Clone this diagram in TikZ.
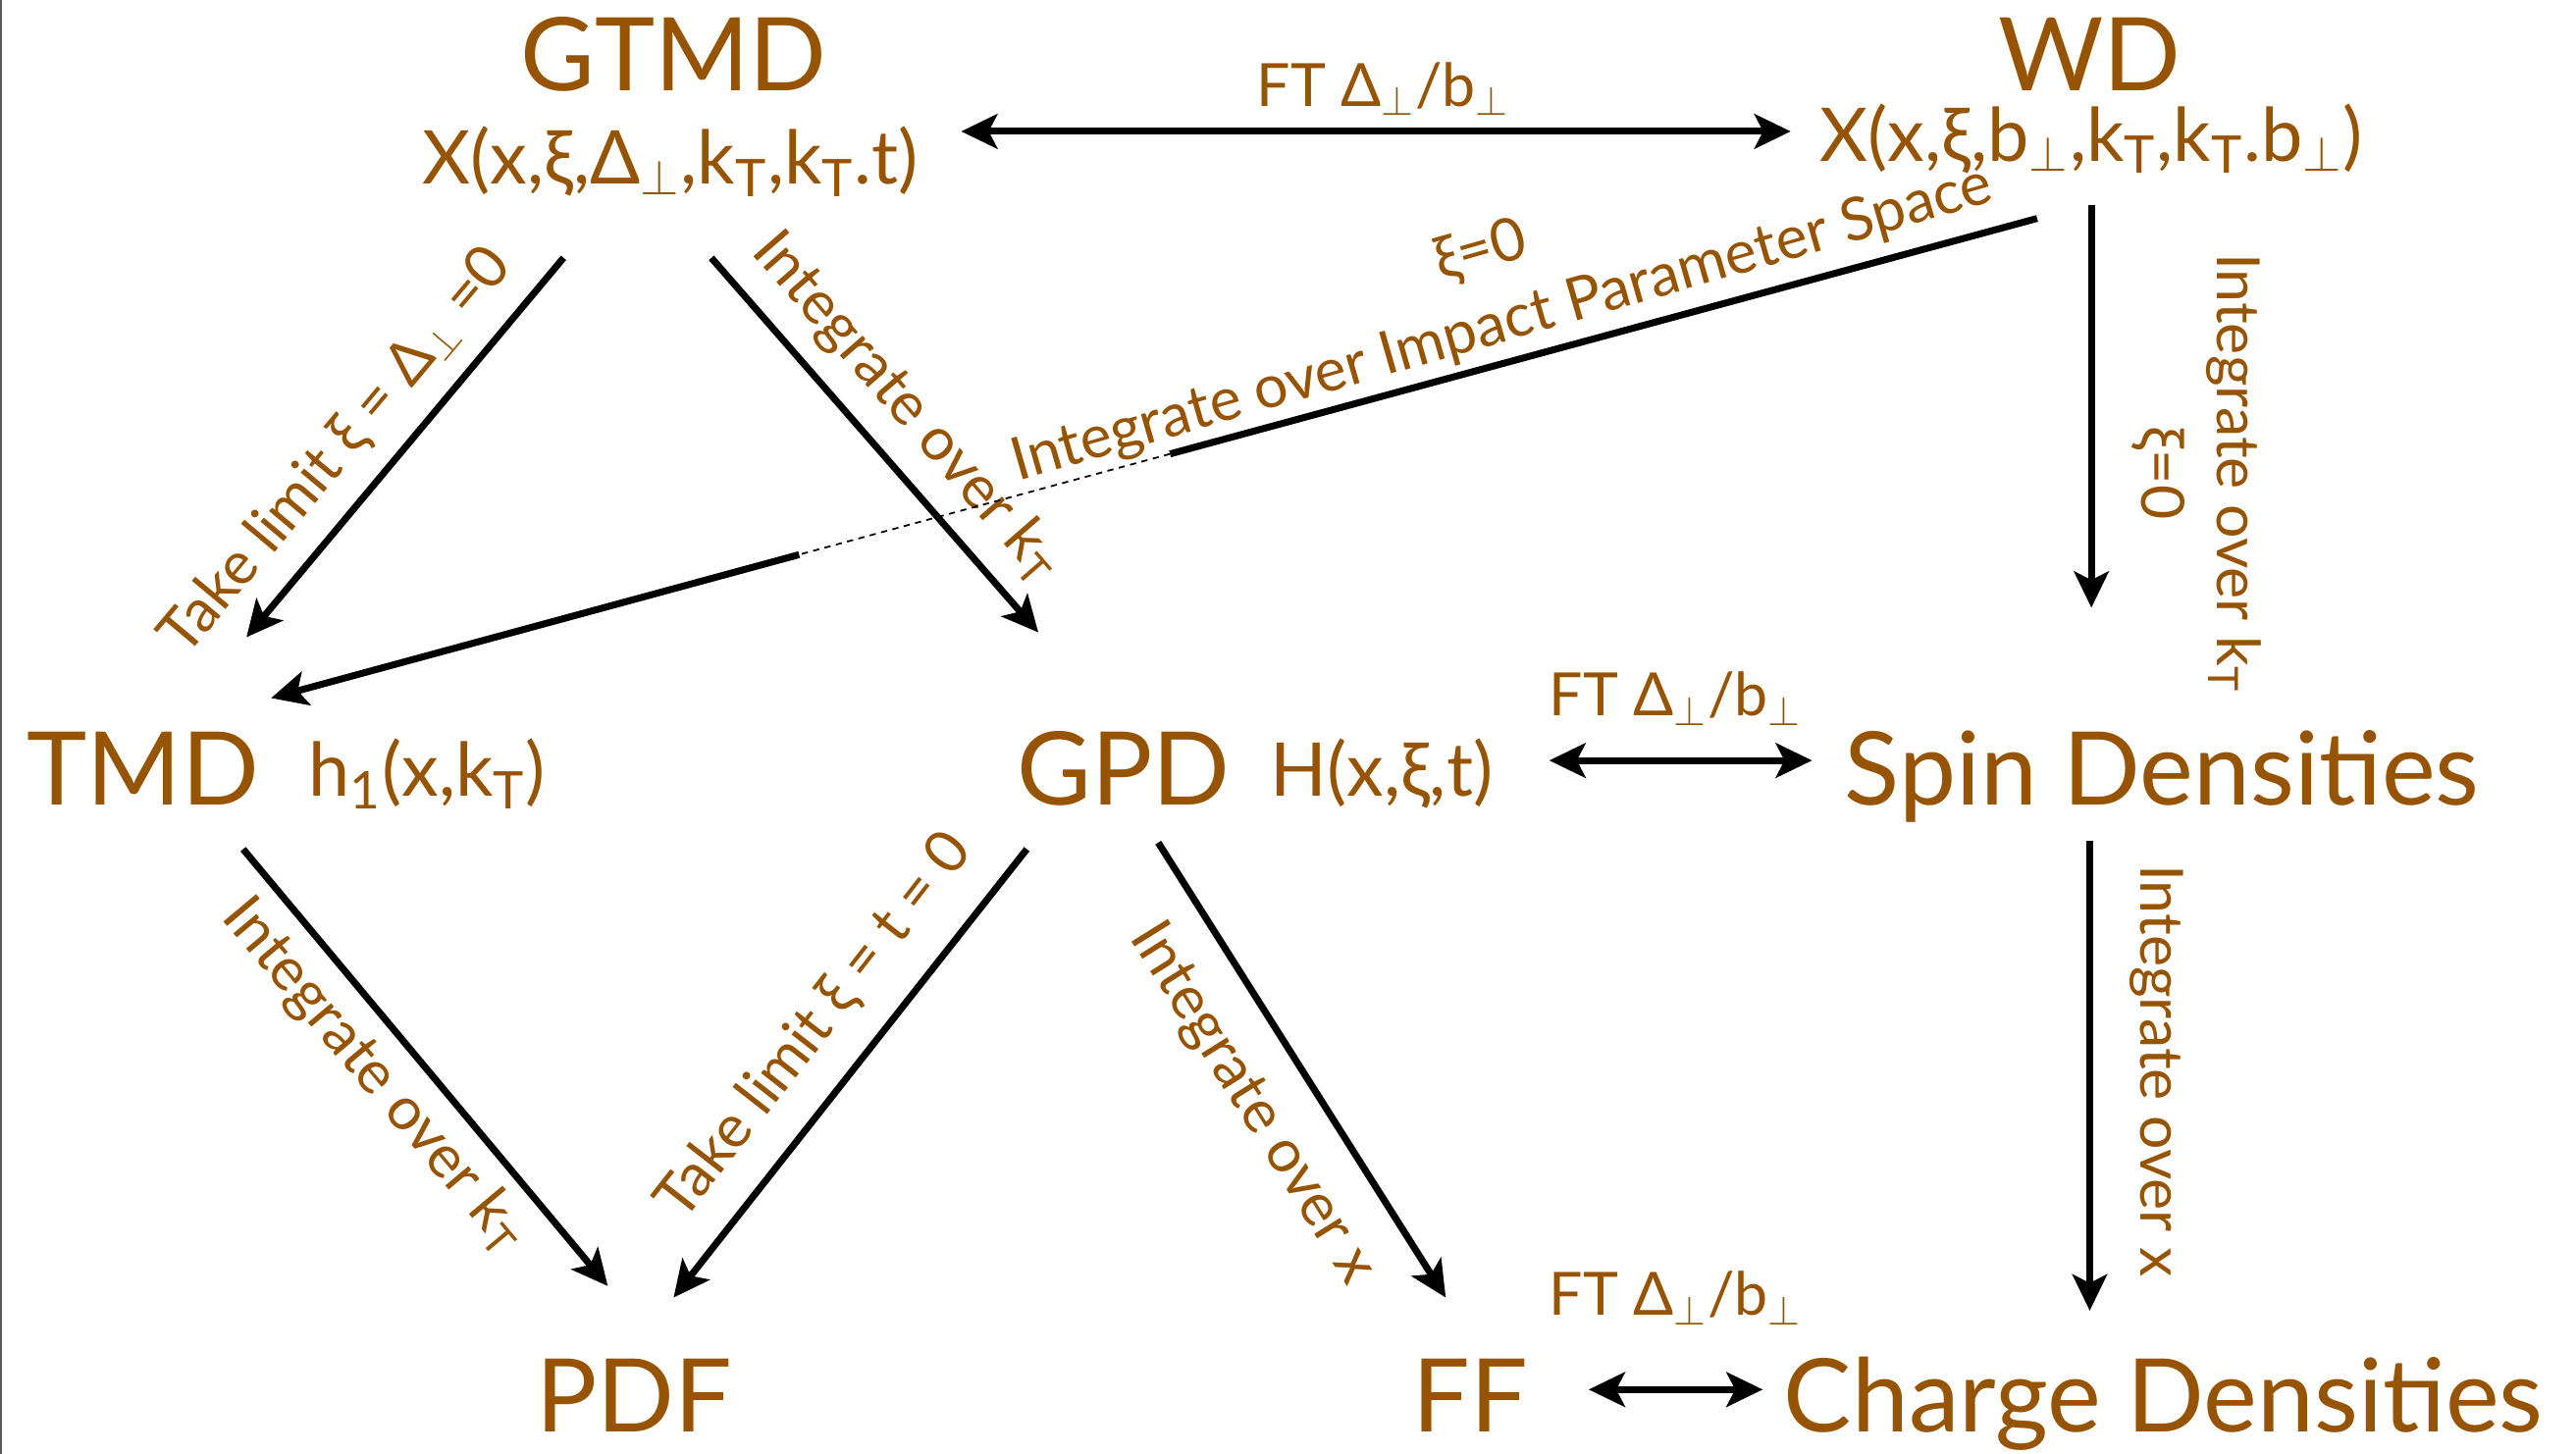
\documentclass[tikz,border=0pt]{standalone}
\usepackage{fontspec}
\setmainfont{Lato}
\usepackage{tikz}
\usetikzlibrary{arrows.meta, calc}
\definecolor{Umber}{HTML}{965300}
\definecolor{Edge}{HTML}{5A5A5A}
\newcommand{\kT}{k\textsubscript{T}}
\newcommand{\perpsub}{\textsubscript{$\perp$}}

\begin{document}
\begin{tikzpicture}[
  x=0.01674cm, y=-0.01674cm,
  >={Stealth[length=10.5pt, width=10pt, inset=2.5pt]},
  big/.style={text=Umber, font=\fontsize{29.5}{34}\selectfont, anchor=base, inner sep=0pt},
  formula/.style={text=Umber, font=\fontsize{21.5}{25}\selectfont, anchor=base, inner sep=0pt},
  note/.style={text=Umber, font=\fontsize{17.3}{22}\selectfont, align=center, inner sep=0pt},
  arrow/.style={->, line width=2pt, draw=black},
  twoway/.style={<->, line width=2pt, draw=black},
  line/.style={line width=2pt, draw=black},
  gap/.style={dash pattern=on 1.8pt off 1.6pt, line width=0.5pt, draw=black}
]
\useasboundingbox (0,0) rectangle (1568,885);
\draw[Edge, line width=0.5pt] (0.6,0) -- (0.6,885);

\node[big] (gtmd) at (410,55) {GTMD};
\node[formula] (gtmdx) at (408,112) {X(x,ξ,Δ\perpsub,\kT,\kT.t)};
\node[big] (wd) at (1272,55) {WD};
\node[formula] (wdx) at (1273,98) {X(x,ξ,b\perpsub,\kT,\kT.b\perpsub)};

\node[big] (tmd) at (87,490) {TMD};
\node[formula] (tmdx) at (260,485) {h\textsubscript{1}(x,\kT)};
\node[big] (gpd) at (684,490) {GPD};
\node[formula] (gpdx) at (841,485) {H(x,ξ,t)};
\node[big] (spin) at (1316,490) {Spin Densities};

\node[big] (pdf) at (386,872) {PDF};
\node[big] (ff) at (895,872) {FF};
\node[big] (charge) at (1317,872) {Charge Densities};

\node[note, anchor=base] (ft1) at (842,65) {FT Δ\perpsub/b\perpsub};
\node[note, anchor=base] (ft2) at (1020,436) {FT Δ\perpsub/b\perpsub};
\node[note, anchor=base] (ft3) at (1020,801) {FT Δ\perpsub/b\perpsub};

\node[note, rotate=50] (lim1) at (205,275) {Take limit ξ = Δ\perpsub{} =0};
\node[note, rotate=-49] (intk1) at (552,248) {Integrate over \kT};
\node[note, rotate=16] (ipar) at (908,176) {ξ=0\\Integrate over Impact Parameter Space};
\node[note, rotate=-90] (wdlbl) at (1337,288) {Integrate over \kT\\ξ=0};
\node[note, rotate=-50] (intk2) at (228,655) {Integrate over \kT};
\node[note, rotate=52] (lim2) at (496,625) {Take limit ξ = t = 0};
\node[note, rotate=-58] (intx1) at (762,672) {Integrate over x};
\node[note, rotate=-90] (intx2) at (1313,652) {Integrate over x};

\draw[twoway] ([shift={(177,-32)}]gtmdx.base) -- ([shift={(-183,-18)}]wdx.base);
\draw[arrow] ([shift={(0,27)}]wdx.base) -- ([shift={(-43,-120)}]spin.base);
\draw[arrow] ([shift={(-65,45)}]gtmdx.base) -- ([shift={(63,-102)}]tmd.base);
\draw[arrow] ([shift={(25,45)}]gtmdx.base) -- ([shift={(-52,-105)}]gpd.base);

\coordinate (ipsA) at ([shift={(-33,35)}]wdx.base);
\coordinate (ipsB) at ([shift={(78,-65)}]tmd.base);
\coordinate (gapA) at ($(ipsA)!0.491!(ipsB)$);
\coordinate (gapB) at ($(ipsA)!0.701!(ipsB)$);
\draw[line] (ipsA) -- (gapA);
\draw[gap] (gapA) -- (gapB);
\draw[arrow] (gapB) -- (ipsB);

\draw[arrow] ([shift={(61,27)}]tmd.base) -- ([shift={(-16,-89)}]pdf.base);
\draw[arrow] ([shift={(-59,27)}]gpd.base) -- ([shift={(24,-82)}]pdf.base);
\draw[arrow] ([shift={(21,23)}]gpd.base) -- ([shift={(-15,-82)}]ff.base);
\draw[twoway] ([shift={(102,-22)}]gpdx.base) -- ([shift={(-213,-27)}]spin.base);
\draw[arrow] ([shift={(-44,22)}]spin.base) -- ([shift={(-45,-74)}]charge.base);
\draw[twoway] ([shift={(72,-26)}]ff.base) -- ([shift={(-244,-26)}]charge.base);
\end{tikzpicture}
\end{document}
